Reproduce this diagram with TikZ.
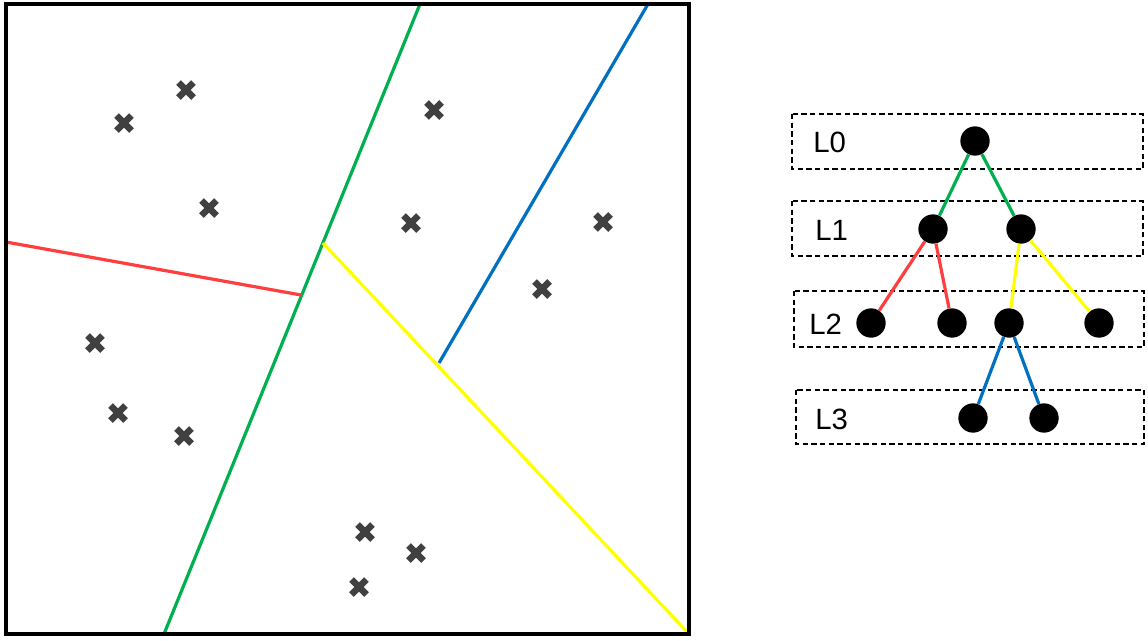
\documentclass[tikz,border=0pt]{standalone}
\usepackage{fontspec}
\setmainfont{Liberation Sans}
\definecolor{cgreen}{HTML}{00B050}
\definecolor{cred}{HTML}{FF3F3F}
\definecolor{cyellow}{HTML}{FFFF00}
\definecolor{cblue}{HTML}{0070C0}
\definecolor{cgray}{HTML}{404040}
\begin{document}
\begin{tikzpicture}[x=0.75pt,y=-0.75pt,
  split/.style={line width=2.4pt},
  xmark/.style={draw=cgray,line width=5pt},
  dot/.style={circle,fill=black,inner sep=0pt,minimum size=22pt},
  level/.style={draw=black,dash pattern=on 4pt off 2.5pt,line width=0.9pt},
  lab/.style={font=\fontsize{22}{26}\selectfont,anchor=west,inner sep=0pt},
  edge/.style={line width=2.4pt}]
\useasboundingbox (0,0) rectangle (1148,640);
\fill[white] (0,0) rectangle (1148,640);
% left panel
\coordinate (tl) at (6,4);
\coordinate (br) at (689,634);
\coordinate (gTop) at (420,4);
\coordinate (gBot) at (164,634);
\coordinate (rL) at (6,242);
\coordinate (rR) at (301,295);
\coordinate (yA) at (323,243);
\coordinate (yB) at (689,634);
\coordinate (bTop) at (648,4);
\coordinate (bBot) at (439,363);
\draw[split,cgreen] (gTop) -- (gBot);
\draw[split,cred] (rL) -- (rR);
\draw[split,cyellow] (yA) -- (yB);
\draw[split,cblue] (bTop) -- (bBot);
\draw[line width=2.7pt] (tl) rectangle (br);
% crosses
\foreach \px/\py in {186/90,124/123,209/208,95/343,118/413,184/436,434/110,411/223,603/222,542/289,365/532,416/553,359/587}{
  \draw[xmark] (\px-7.5,\py-7.5) -- ++(15,15);
  \draw[xmark] (\px-7.5,\py+7.5) -- ++(15,-15);
}
% level boxes
\draw[level] (792,114) rectangle (1143,169);
\draw[level] (792,201) rectangle (1143,256);
\draw[level] (794,291) rectangle (1144,347);
\draw[level] (796,390) rectangle (1144,444);
\node[lab] (l0) at (813,142) {L0};
\node[lab] (l1) at (815,230) {L1};
\node[lab] (l2) at (809,324) {L2};
\node[lab] (l3) at (815,419) {L3};
% tree nodes
\node[dot] (r) at (975,141) {};
\node[dot] (a) at (933,229) {};
\node[dot] (b) at (1021,229) {};
\node[dot] (c) at (871,323) {};
\node[dot] (d) at (952,323) {};
\node[dot] (e) at (1009,323) {};
\node[dot] (f) at (1099,323) {};
\node[dot] (g) at (973,418) {};
\node[dot] (h) at (1044,418) {};
\draw[edge,cgreen] (r) -- (a);
\draw[edge,cgreen] (r) -- (b);
\draw[edge,cred] (a) -- (c);
\draw[edge,cred] (a) -- (d);
\draw[edge,cyellow] (b) -- (e);
\draw[edge,cyellow] (b) -- (f);
\draw[edge,cblue] (e) -- (g);
\draw[edge,cblue] (e) -- (h);
\end{tikzpicture}
\end{document}
